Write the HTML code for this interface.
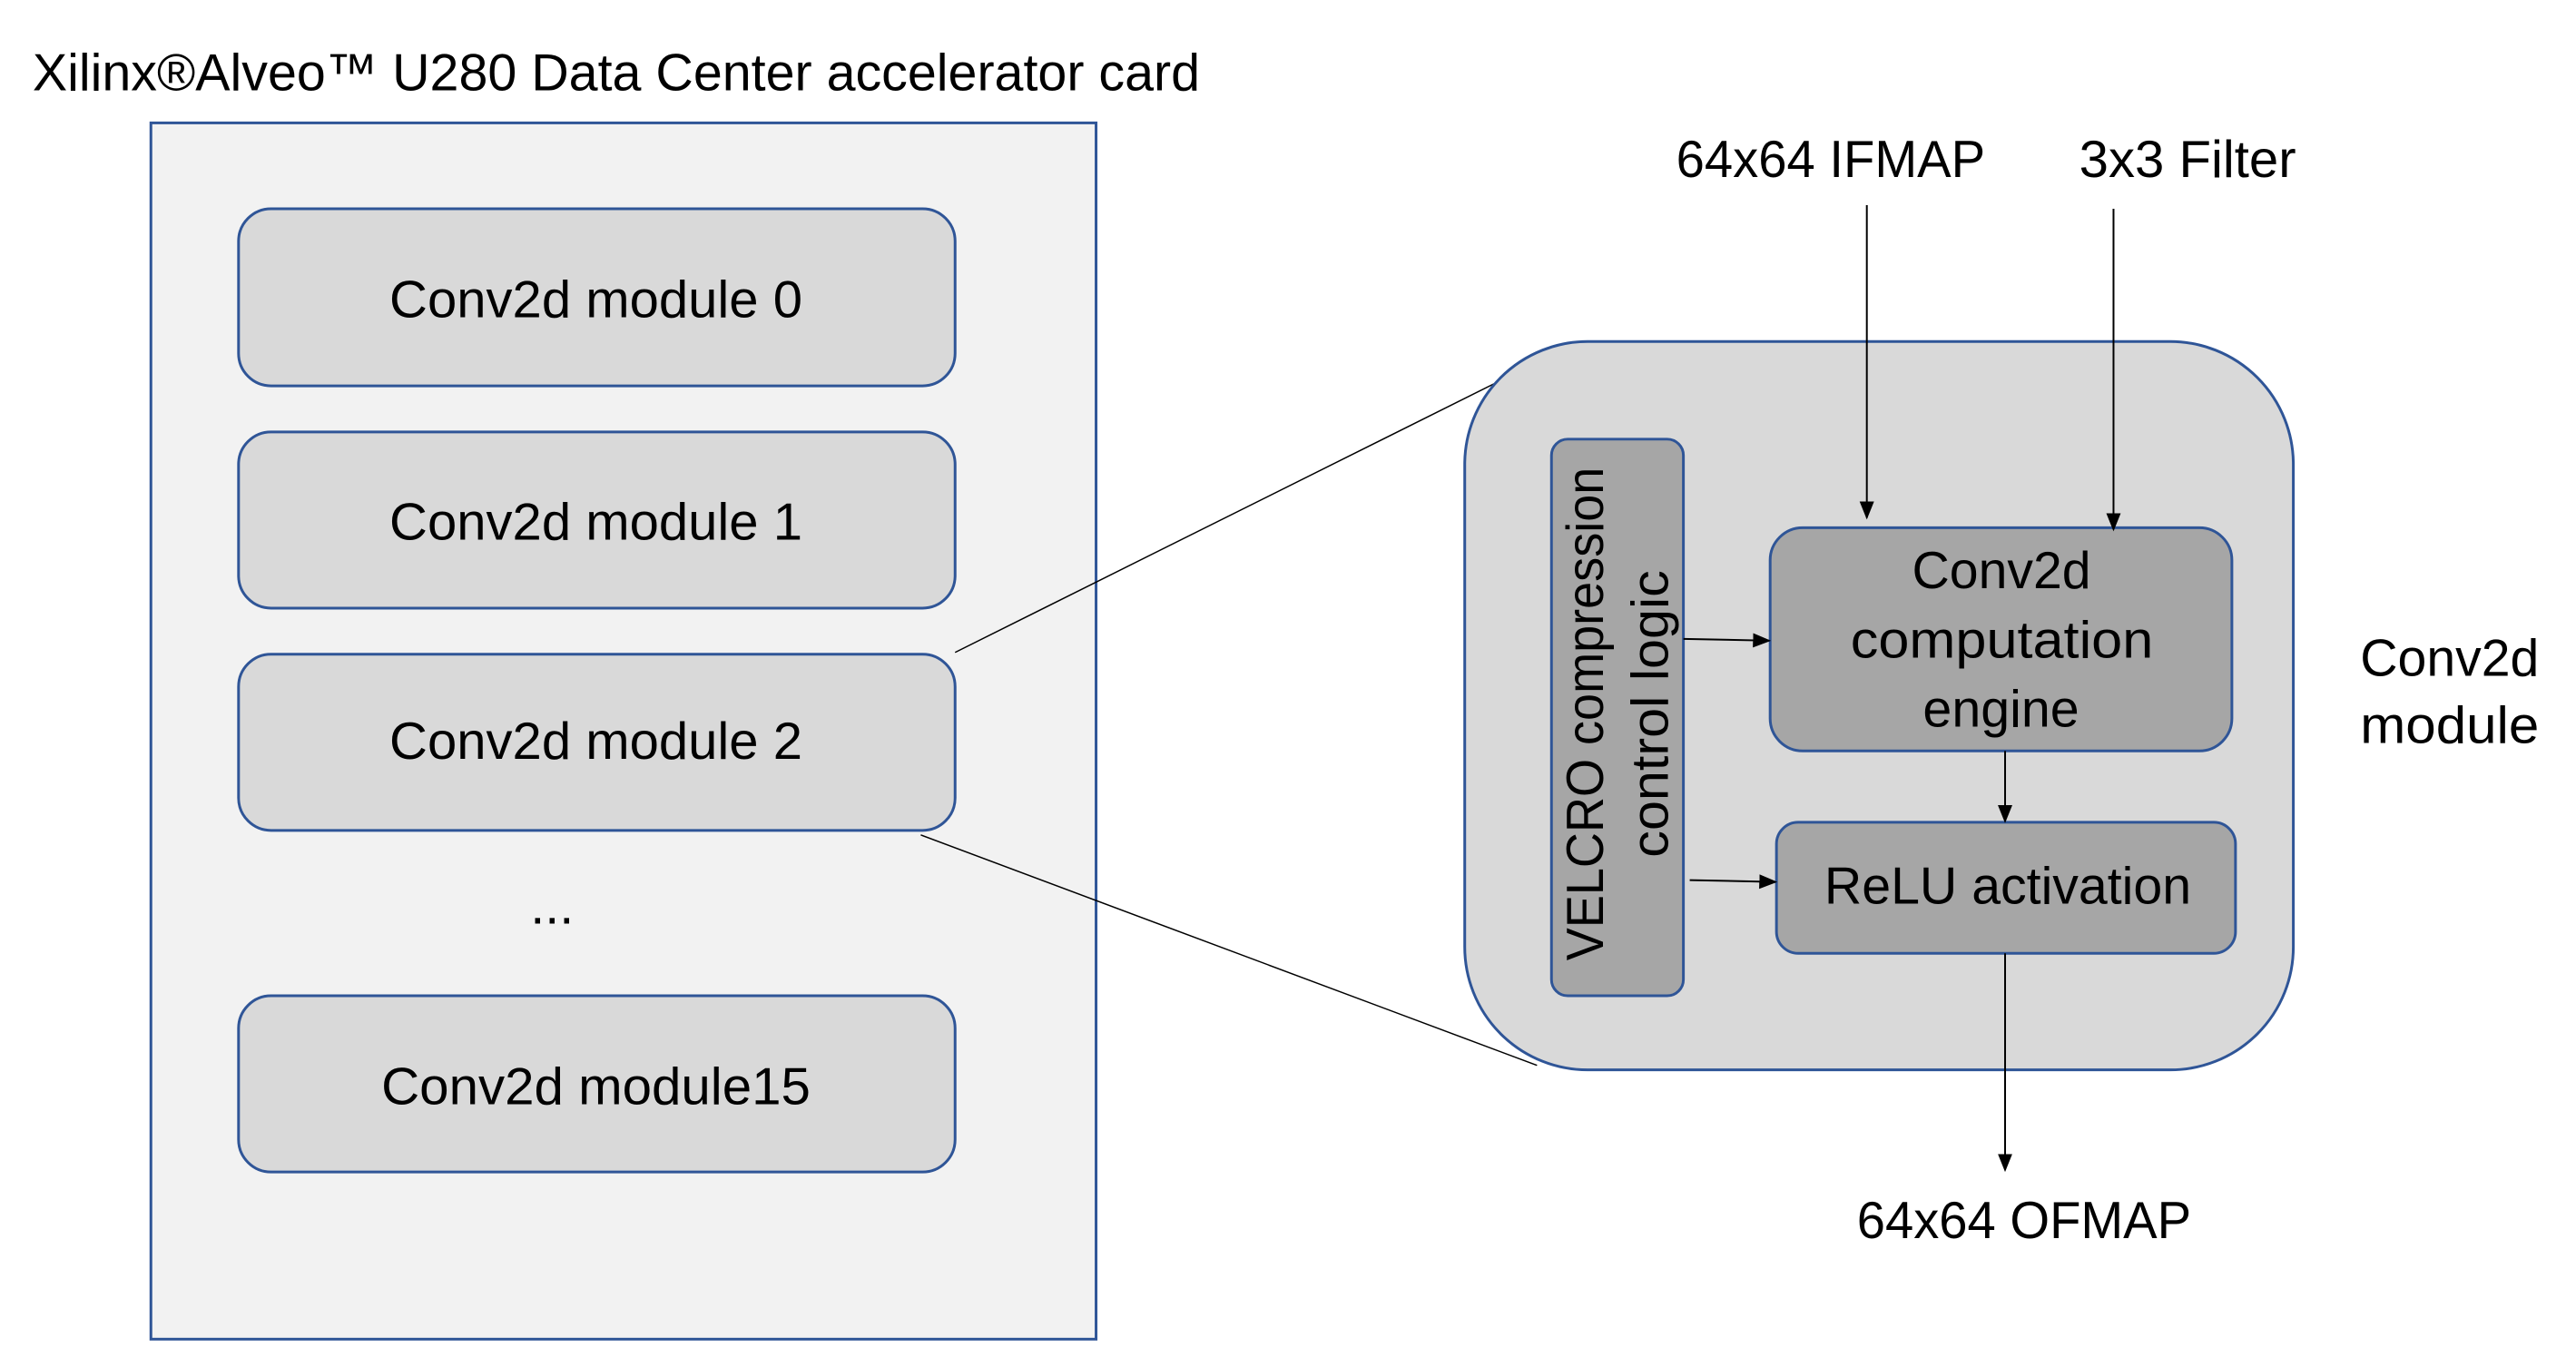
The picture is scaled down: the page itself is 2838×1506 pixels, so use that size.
<!DOCTYPE html>
<html><head><meta charset="utf-8"><style>html,body{margin:0;padding:0;background:#fff}svg{display:block}text{font-family:"Liberation Sans",sans-serif;fill:#000}</style></head>
<body>
<svg width="2838" height="1506" viewBox="0 0 2838 1506" xmlns="http://www.w3.org/2000/svg">
<defs>
<marker id="b" markerWidth="20" markerHeight="20" refX="18" refY="10" orient="auto" markerUnits="userSpaceOnUse" viewBox="0 0 20 20"><path d="M0,2 L20,10 L0,18 z" fill="#000"/></marker></defs>
<g transform="scale(0.9955)">
<text x="36" y="100" font-size="58" textLength="1292" lengthAdjust="spacingAndGlyphs">Xilinx®Alveo™ U280 Data Center accelerator card</text>
<rect x="167" y="136" width="1046" height="1346" fill="#f2f2f2" stroke="#2f5597" stroke-width="3"/>
<g fill="#d9d9d9" stroke="#2f5597" stroke-width="3">
<rect x="264" y="231" width="793" height="196" rx="36"/>
<rect x="264" y="478" width="793" height="195" rx="36"/>
<rect x="264" y="724" width="793" height="195" rx="36"/>
<rect x="264" y="1102" width="793" height="195" rx="36"/>
</g>
<g font-size="58">
<text x="431" y="351" textLength="457" lengthAdjust="spacingAndGlyphs">Conv2d module 0</text>
<text x="431" y="597" textLength="457" lengthAdjust="spacingAndGlyphs">Conv2d module 1</text>
<text x="431" y="840" textLength="457" lengthAdjust="spacingAndGlyphs">Conv2d module 2</text>
<text x="422" y="1222" textLength="475" lengthAdjust="spacingAndGlyphs">Conv2d module15</text>
<text x="611" y="1022" text-anchor="middle">...</text>
</g>
<line x1="1057" y1="722" x2="1695" y2="404" stroke="#000" stroke-width="1.5"/>
<line x1="1019" y1="924" x2="1701" y2="1179" stroke="#000" stroke-width="1.5"/>
<rect x="1621" y="378" width="917" height="806" rx="136" fill="#d9d9d9" stroke="#2f5597" stroke-width="3"/>
<g fill="#a6a6a6" stroke="#2f5597" stroke-width="3">
<rect x="1717" y="486" width="146" height="616" rx="18"/>
<rect x="1959" y="584" width="511" height="247" rx="36"/>
<rect x="1966" y="910" width="508" height="145" rx="24"/>
</g>
<g font-size="58">
<text transform="translate(1774,790) rotate(-90)" text-anchor="middle" textLength="546" lengthAdjust="spacingAndGlyphs">VELCRO compression</text>
<text transform="translate(1846,790) rotate(-90)" text-anchor="middle" textLength="318" lengthAdjust="spacingAndGlyphs">control logic</text>
<text x="2116" y="651" textLength="198" lengthAdjust="spacingAndGlyphs">Conv2d</text>
<text x="2048" y="728" textLength="335" lengthAdjust="spacingAndGlyphs">computation</text>
<text x="2128" y="804" textLength="173" lengthAdjust="spacingAndGlyphs">engine</text>
<text x="2019" y="1000" textLength="406" lengthAdjust="spacingAndGlyphs">ReLU activation</text>
<text x="1855" y="196" textLength="342" lengthAdjust="spacingAndGlyphs">64x64 IFMAP</text>
<text x="2301" y="196" textLength="240" lengthAdjust="spacingAndGlyphs">3x3 Filter</text>
<text x="2055" y="1370" textLength="370" lengthAdjust="spacingAndGlyphs">64x64 OFMAP</text>
<text x="2612" y="748" textLength="198" lengthAdjust="spacingAndGlyphs">Conv2d</text>
<text x="2612" y="822" textLength="198" lengthAdjust="spacingAndGlyphs">module</text>
</g>
<g stroke="#000" stroke-width="2" fill="none">
<line x1="2066" y1="227" x2="2066" y2="573" marker-end="url(#b)"/>
<line x1="2339" y1="231" x2="2339" y2="586" marker-end="url(#b)"/>
<line x1="1863" y1="707" x2="1958" y2="709" marker-end="url(#b)"/>
<line x1="1870" y1="974" x2="1965" y2="976" marker-end="url(#b)"/>
<line x1="2219" y1="831" x2="2219" y2="909" marker-end="url(#b)"/>
<line x1="2219" y1="1055" x2="2219" y2="1295" marker-end="url(#b)"/>
</g>
</g>
</svg>
</body></html>
